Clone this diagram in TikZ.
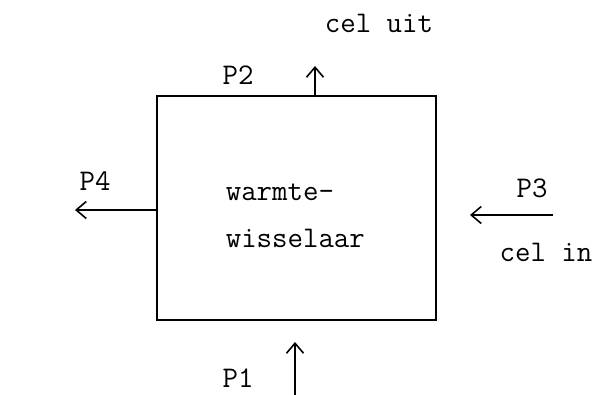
\documentclass[tikz,border=0pt]{standalone}
\usetikzlibrary{arrows.meta}

\begin{document}
\begin{tikzpicture}[x=1pt,y=-1pt,line width=1.6pt,
  every node/.style = {font=\ttfamily\fontsize{30}{36}\selectfont, inner sep=0pt},
  pijl/.style = {-{Straight Barb[length=10pt,width=17pt,line width=1.6pt]}}]
  \useasboundingbox (0,0) rectangle (596,395);
  \draw (157,96) rectangle (436,320);
  \node[anchor=west] (regel1) at (225,192) {warmte-};
  \node[anchor=west] (regel2) at (225,238) {wisselaar};
  % aansluitingen
  \coordinate (boven) at (315,96);
  \coordinate (uit) at (315,66);
  \coordinate (links) at (157,210);
  \coordinate (p4eind) at (75,210);
  \coordinate (rechts) at (553,215);
  \coordinate (p3eind) at (470,215);
  \coordinate (onder) at (295,395);
  \coordinate (p1eind) at (295,342);
  \draw[pijl] (boven) -- (uit);
  \draw[pijl] (links) -- (p4eind);
  \draw[pijl] (rechts) -- (p3eind);
  \draw[pijl] (onder) -- (p1eind);
  \node (celuit) at (379,23) {cel uit};
  \node (p2) at (238,75) {P2};
  \node (p4) at (95,181) {P4};
  \node (p3) at (532,188) {P3};
  \node (celin) at (546,252) {cel in};
  \node (p1) at (238,378) {P1};
\end{tikzpicture}
\end{document}
